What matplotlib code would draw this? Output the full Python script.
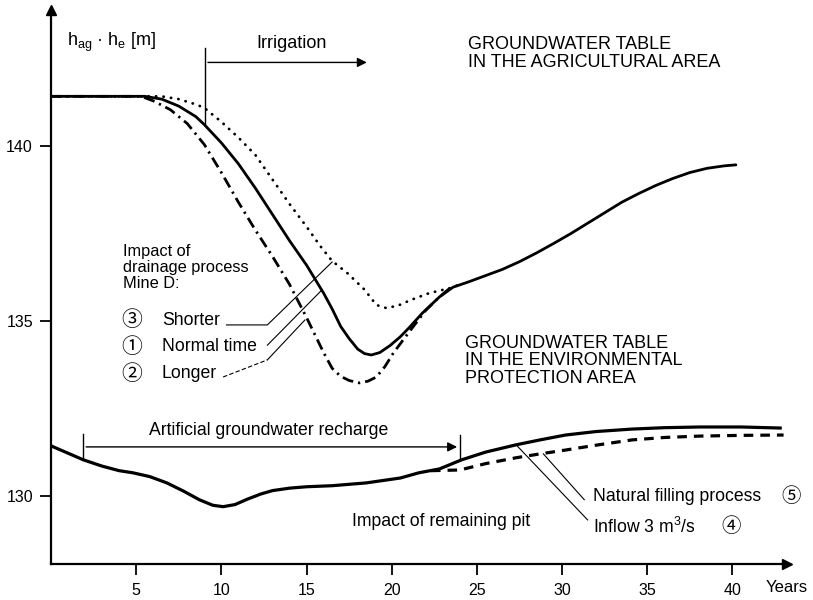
import matplotlib
matplotlib.use("Agg")
import matplotlib.pyplot as plt

plt.rcParams['font.family'] = ['Liberation Sans', 'Noto Sans CJK JP', 'DejaVu Sans']
plt.rcParams['mathtext.default'] = 'regular'

# ---------------- data ----------------
# Agricultural area, curve 1 (normal time, solid)
agr_normal_x = [0, 5.5, 6.5, 7.5, 8.5, 9, 10, 11, 12, 13, 14, 15, 15.5, 16, 16.5, 17, 17.5,
                18, 18.4, 18.8, 19.3, 19.9, 20.5, 21, 21.8, 22.8, 23.6, 24.5, 25.5, 26.5,
                27.5, 28.5, 29.5, 30.5, 31.5, 32.5, 33.5, 34.5, 35.5, 36.5, 37.5, 38.5,
                39.5, 40.2]
agr_normal_y = [141.43, 141.43, 141.35, 141.15, 140.85, 140.62, 140.1, 139.5, 138.8, 138.05,
                137.3, 136.6, 136.2, 135.8, 135.35, 134.85, 134.5, 134.2, 134.07, 134.03,
                134.1, 134.3, 134.55, 134.8, 135.23, 135.69, 135.97, 136.12, 136.3, 136.48,
                136.7, 136.95, 137.22, 137.5, 137.8, 138.1, 138.4, 138.65, 138.88, 139.08,
                139.25, 139.37, 139.44, 139.47]
# curve 3 (shorter, dotted)
agr_short_x = [0, 6.5, 7.5, 8.5, 9, 10, 11, 12, 13, 14, 15, 15.8, 16.5, 17.4, 18.4, 19.1,
               19.7, 20.4, 21.1, 22.2, 23.4, 24.0]
agr_short_y = [141.43, 141.43, 141.35, 141.2, 141.1, 140.7, 140.25, 139.75, 139.05, 138.35,
               137.7, 137.15, 136.72, 136.37, 135.9, 135.46, 135.37, 135.45, 135.6, 135.8,
               135.94, 136.05]
# curve 2 (longer, dash-dot)
agr_long_x = [0, 5.3, 6, 7, 8, 9, 10, 11, 12, 13, 14, 15, 15.6, 16, 16.5, 17, 17.5, 18.1,
              18.6, 19.1, 19.6, 20.1, 21.1, 22.0, 22.8, 23.6]
agr_long_y = [141.43, 141.43, 141.3, 141.05, 140.65, 140.05, 139.25, 138.4, 137.6, 136.85,
              136.05, 135.1, 134.5, 134.1, 133.65, 133.42, 133.3, 133.23, 133.28, 133.4,
              133.7, 134.09, 134.74, 135.31, 135.69, 136.02]
# Environmental protection area, curve 4 (inflow 3 m3/s, solid)
env_inflow_x = [0, 1, 1.9, 3, 4, 4.8, 5.8, 6.8, 7.8, 8.7, 9.5, 10.1, 10.8, 11.5, 12.3, 13,
                14, 15, 16.5, 18.5, 20.5, 21.6, 22.8, 24.1, 25.5, 27.3, 28.7, 30.2, 32,
                34.1, 36, 38.1, 40.5, 42.8]
env_inflow_y = [131.43, 131.22, 131.03, 130.85, 130.72, 130.66, 130.55, 130.37, 130.13,
                129.89, 129.73, 129.69, 129.75, 129.9, 130.05, 130.15, 130.22, 130.26,
                130.29, 130.37, 130.51, 130.66, 130.77, 131.03, 131.25, 131.46, 131.6,
                131.74, 131.84, 131.91, 131.95, 131.97, 131.97, 131.94]
# curve 5 (natural filling process, dashed)
env_natural_x = [22.3, 24.0, 25.5, 27.3, 28.7, 30.2, 32, 34.1, 36, 38.1, 40.5, 43.0]
env_natural_y = [130.72, 130.74, 130.92, 131.09, 131.2, 131.31, 131.45, 131.6, 131.67,
                 131.71, 131.73, 131.74]

x_ticks = [5, 10, 15, 20, 25, 30, 35, 40]
y_ticks = [130, 135, 140]

# ---------------- figure ----------------
fig = plt.figure(figsize=(8.13, 6.0), dpi=100)
ax = fig.add_axes([51 / 813, 36 / 600, 736 / 813, 554 / 600])
ax.set_xlim(0, 43.2)
ax.set_ylim(128.05, 143.9)

for s in ['top', 'right']:
    ax.spines[s].set_visible(False)
for s in ['left', 'bottom']:
    ax.spines[s].set_linewidth(1.6)

ax.set_xticks(x_ticks)
ax.set_yticks(y_ticks)
ax.tick_params(axis='both', direction='out', length=8, width=1.3, labelsize=11.5, pad=5)
ax.tick_params(axis='x', pad=6)

# axis arrows
ax.plot(1, 0, '>k', markersize=7, transform=ax.transAxes, clip_on=False)
ax.plot(0, 1, '^k', markersize=7, transform=ax.transAxes, clip_on=False)

k = 'black'
# agricultural curves
ax.plot(agr_normal_x, agr_normal_y, color=k, lw=2.0, solid_capstyle='round')
ax.plot(agr_short_x, agr_short_y, color=k, lw=2.0, linestyle=(0, (0.1, 2.6)),
        dash_capstyle='round')
ax.plot(agr_long_x, agr_long_y, color=k, lw=2.0, linestyle=(0, (4, 1.8, 0.8, 1.8)))
# environmental curves
ax.plot(env_inflow_x, env_inflow_y, color=k, lw=2.3)
ax.plot(env_natural_x, env_natural_y, color=k, lw=2.3, linestyle=(0, (3, 2.2)))

# irrigation marker
ax.plot([9.05, 9.05], [140.62, 142.8], color=k, lw=1.0)
ax.annotate('', xy=(18.7, 142.4), xytext=(9.05, 142.4),
            arrowprops=dict(arrowstyle='-|>', color=k, lw=1.0, mutation_scale=14))
ax.text(14.1, 142.94, 'Irrigation', fontsize=13, ha='center', va='center')

# artificial recharge marker
ax.plot([1.9, 1.9], [131.03, 131.77], color=k, lw=1.0)
ax.plot([24.0, 24.0], [131.03, 131.74], color=k, lw=1.0)
ax.annotate('', xy=(24.0, 131.4), xytext=(1.9, 131.4),
            arrowprops=dict(arrowstyle='-|>', color=k, lw=1.0, mutation_scale=14))
ax.text(12.8, 131.86, 'Artificial groundwater recharge', fontsize=12.7,
        ha='center', va='center')

# y label
ax.text(0.95, 142.97, 'h$_{ag}$ · h$_{e}$ [m]', fontsize=13, ha='left', va='center')
# x label
ax.text(43.2, 127.38, 'Years', fontsize=12, ha='center', va='center', clip_on=False)

# area titles
ax.text(24.5, 142.66, 'GROUNDWATER TABLE\nIN THE AGRICULTURAL AREA', fontsize=13,
        ha='left', va='center', linespacing=1.1)
ax.text(24.3, 133.86, 'GROUNDWATER TABLE\nIN THE ENVIRONMENTAL\nPROTECTION AREA',
        fontsize=13, ha='left', va='center', linespacing=1.05)

# drainage impact legend
ax.text(4.2, 136.54, 'Impact of\ndrainage process\nMine D:', fontsize=11.8,
        ha='left', va='center', linespacing=1.1)
circ_y = [135.03, 134.26, 133.49]
circ_t = ['③', '①', '②']
lab_t = ['Shorter', 'Normal time', 'Longer']
for cy, ct, lt in zip(circ_y, circ_t, lab_t):
    ax.text(4.75, cy, ct, fontsize=15, ha='center', va='center')
    ax.text(6.5, cy, lt, fontsize=12.7, ha='left', va='center')

ax.plot([10.3, 12.7, 16.5], [134.89, 134.89, 136.69], color=k, lw=0.8)
ax.plot([12.7, 15.9], [134.31, 135.89], color=k, lw=0.8)
ax.plot([10.1, 12.7], [133.4, 133.89], color=k, lw=0.8, linestyle=(0, (4, 2)))
ax.plot([12.7, 14.9], [133.89, 135.03], color=k, lw=0.8)

# remaining pit labels
ax.text(17.65, 129.26, 'Impact of remaining pit', fontsize=12.7, ha='left', va='center')
ax.text(31.8, 129.97, 'Natural filling process', fontsize=12.7, ha='left', va='center')
ax.text(43.45, 129.97, '⑤', fontsize=14, ha='center', va='center', clip_on=False)
ax.text(31.8, 129.11, 'Inflow 3 m$^3$/s', fontsize=12.7, ha='left', va='center')
ax.text(39.9, 129.11, '④', fontsize=14, ha='center', va='center')
ax.plot([31.3, 28.9], [129.89, 131.2], color=k, lw=0.8)
ax.plot([31.5, 27.3], [129.31, 131.46], color=k, lw=0.8)

fig.savefig('out.png', dpi=100, facecolor='white')
